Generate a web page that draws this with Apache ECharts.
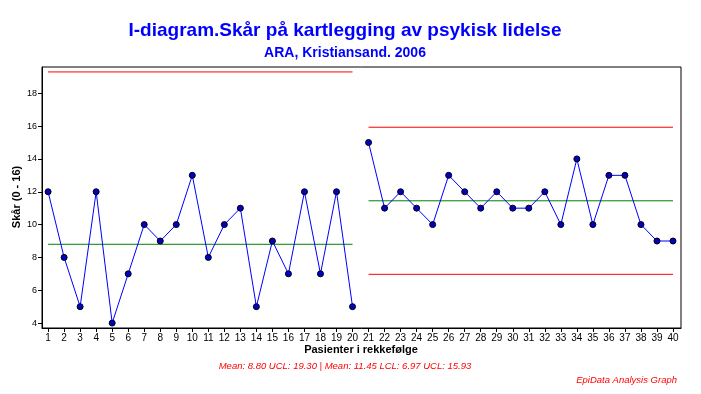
<!DOCTYPE html>
<html>
<head>
<meta charset="utf-8">
<script src="https://cdn.jsdelivr.net/npm/echarts@6/dist/echarts.min.js"></script>
<style>html,body{margin:0;padding:0;background:#fff}#c{width:701px;height:394px}</style>
</head>
<body>
<div id="c"></div>
<script>
var patients1 = [1,2,3,4,5,6,7,8,9,10,11,12,13,14,15,16,17,18,19,20];
var scores1 = [12,8,5,12,4,7,10,9,10,13,8,10,11,5,9,7,12,7,12,5];
var patients2 = [21,22,23,24,25,26,27,28,29,30,31,32,33,34,35,36,37,38,39,40];
var scores2 = [15,11,12,11,10,13,12,11,12,11,11,12,10,14,10,13,13,10,9,9];
var phase1Limits = {mean: 8.80, ucl: 19.30};
var phase2Limits = {mean: 11.45, lcl: 6.97, ucl: 15.93};
var xTicks = [1,2,3,4,5,6,7,8,9,10,11,12,13,14,15,16,17,18,19,20,21,22,23,24,25,26,27,28,29,30,31,32,33,34,35,36,37,38,39,40];
var yTicks = [4,6,8,10,12,14,16,18];

var FONT = 'Liberation Sans, Arial, sans-serif';
function pairs(xs, ys){ return xs.map(function(x,i){ return [x, ys[i]]; }); }
function hline(xs, v){ return [[xs[0], v], [xs[xs.length-1], v]]; }
function limitSeries(data, color){
  return {type:'line', data:data, symbol:'none', silent:true, z:1,
    lineStyle:{color:color, width:1}};
}
function pointSeries(data){
  return {type:'line', data:data, symbol:'circle', symbolSize:6, z:3,
    lineStyle:{color:'#0000ff', width:1},
    itemStyle:{color:'#0000cc', borderColor:'#000', borderWidth:1}};
}

var chart = echarts.init(document.getElementById('c'));
chart.setOption({
  backgroundColor:'#fff',
  animation:false,
  graphic:[
    {type:'text', x:345, y:31,
     style:{text:'I-diagram.Skår på kartlegging av psykisk lidelse', fill:'#0000ff', font:'bold 19px '+FONT, textAlign:'center', textVerticalAlign:'middle'}},
    {type:'text', x:345, y:53,
     style:{text:'ARA, Kristiansand. 2006', fill:'#0000ff', font:'bold 14px '+FONT, textAlign:'center', textVerticalAlign:'middle'}},
    {type:'text', x:17, y:197, rotation:Math.PI/2,
     style:{text:'Skår (0 - 16)', fill:'#000', font:'bold 11px '+FONT, textAlign:'center', textVerticalAlign:'middle'}},
    {type:'text', x:361, y:350,
     style:{text:'Pasienter i rekkefølge', fill:'#000', font:'bold 11px '+FONT, textAlign:'center', textVerticalAlign:'middle'}},
    {type:'text', x:345, y:366,
     style:{text:'Mean: 8.80 UCL: 19.30 | Mean: 11.45 LCL: 6.97 UCL: 15.93', fill:'#ff0000', font:'italic 9.5px '+FONT, textAlign:'center', textVerticalAlign:'middle'}},
    {type:'text', x:677, y:380,
     style:{text:'EpiData Analysis Graph', fill:'#ff0000', font:'italic 9.5px '+FONT, textAlign:'right', textVerticalAlign:'middle'}}
  ],
  grid:{left:42, right:20, top:67, bottom:66, show:true, borderColor:'#000', borderWidth:1, backgroundColor:'transparent'},
  xAxis:{type:'value', min:0.62, max:40.5,
    axisLine:{show:true, onZero:false, lineStyle:{color:'#000'}},
    axisTick:{show:true, length:4, customValues:xTicks, lineStyle:{color:'#000'}},
    axisLabel:{customValues:xTicks, color:'#000', fontFamily:FONT, fontSize:10, margin:5},
    splitLine:{show:false}},
  yAxis:{type:'value', min:3.7, max:19.6,
    axisLine:{show:true, lineStyle:{color:'#000'}},
    axisTick:{show:true, length:4, customValues:yTicks, lineStyle:{color:'#000'}},
    axisLabel:{customValues:yTicks, color:'#000', fontFamily:FONT, fontSize:9, margin:5},
    splitLine:{show:false}},
  series:[
    limitSeries(hline(patients1, phase1Limits.ucl), '#ff0000'),
    limitSeries(hline(patients1, phase1Limits.mean), '#008000'),
    limitSeries(hline(patients2, phase2Limits.ucl), '#ff0000'),
    limitSeries(hline(patients2, phase2Limits.mean), '#008000'),
    limitSeries(hline(patients2, phase2Limits.lcl), '#ff0000'),
    pointSeries(pairs(patients1, scores1)),
    pointSeries(pairs(patients2, scores2))
  ]
});
</script>
</body>
</html>
